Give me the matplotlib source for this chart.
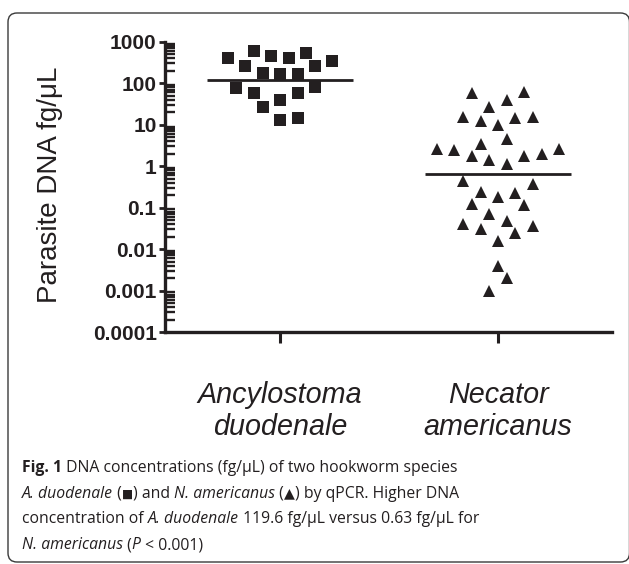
import matplotlib
matplotlib.use('Agg')
import matplotlib.pyplot as plt
from matplotlib.patches import FancyBboxPatch
from matplotlib.ticker import FixedLocator, LogLocator, NullFormatter

# ---------------- data ----------------
categories = ['Ancylostoma\nduodenale', 'Necator\namericanus']
ancylostoma_values = [411, 607, 459, 411, 525, 348, 264, 264, 173, 164, 164,
                      78, 82, 57, 57, 39, 27, 12.9, 14.2]
ancylostoma_jitter = [-0.24, -0.12, -0.04, 0.04, 0.12, 0.24, -0.16, 0.16, -0.08, 0.0, 0.08,
                      -0.20, 0.16, -0.12, 0.08, 0.0, -0.08, 0.0, 0.08]
necator_values = [58.9, 62.3, 39.3, 27.1, 15.5, 12.4, 14.7, 15.5, 9.8, 4.5, 3.4,
                  2.54, 2.45, 1.78, 1.40, 1.12, 1.78, 1.96, 2.54,
                  0.445, 0.37, 0.24, 0.183, 0.229, 0.12, 0.115, 0.069, 0.048,
                  0.0395, 0.030, 0.036, 0.024, 0.0159, 0.004, 0.00197, 0.00099]
necator_jitter = [-0.12, 0.12, 0.04, -0.04, -0.16, -0.08, 0.08, 0.16, 0.0, 0.04, -0.08,
                  -0.28, -0.20, -0.12, -0.04, 0.04, 0.12, 0.20, 0.28,
                  -0.16, 0.16, -0.08, 0.0, 0.08, -0.12, 0.12, -0.04, 0.04,
                  -0.16, -0.08, 0.16, 0.08, 0.0, 0.0, 0.04, -0.04]
center_values = [119.6, 0.63]
ytick_values = [1000, 100, 10, 1, 0.1, 0.01, 0.001, 0.0001]
ytick_labels = ['1000', '100', '10', '1', '0.1', '0.01', '0.001', '0.0001']
y_label = 'Parasite DNA fg/μL'

caption_lines = [
    [('Fig. 1', 'bold', 'normal'),
     (' DNA concentrations (fg/μL) of two hookworm species', 'normal', 'normal')],
    [('A. duodenale', 'normal', 'italic'), (' (', 'normal', 'normal'),
     ('■', 'normal', 'normal'), (') and ', 'normal', 'normal'),
     ('N. americanus', 'normal', 'italic'), (' (', 'normal', 'normal'),
     ('▲', 'normal', 'normal'), (') by qPCR. Higher DNA', 'normal', 'normal')],
    [('concentration of ', 'normal', 'normal'), ('A. duodenale', 'normal', 'italic'),
     (' 119.6 fg/μL versus 0.63 fg/μL for', 'normal', 'normal')],
    [('N. americanus', 'normal', 'italic'), (' (', 'normal', 'normal'),
     ('P', 'normal', 'italic'), (' < 0.001)', 'normal', 'normal')],
]

# ---------------- figure ----------------
W, H = 629, 564
fig = plt.figure(figsize=(W / 100, H / 100), dpi=100)
fig.patch.set_facecolor('white')

ax_l, ax_r, ax_t, ax_b = 165, 612, 41.7, 332
ax = fig.add_axes([ax_l / W, 1 - ax_b / H, (ax_r - ax_l) / W, (ax_b - ax_t) / H])
ax.set_yscale('log')
ax.set_ylim(1e-4, 1e3)
ax.set_xlim(0.472, 2.523)

ink = '#231f20'
x1 = [1 + j for j in ancylostoma_jitter]
x2 = [2 + j for j in necator_jitter]
ax.plot(x1, ancylostoma_values, linestyle='none', marker='s', ms=8.3, mew=0,
        color=ink, zorder=3)
ax.plot(x2, necator_values, linestyle='none', marker='^', ms=8.2, mew=0,
        color=ink, zorder=3)
for i, v in enumerate(center_values):
    ax.plot([i + 1 - 0.335, i + 1 + 0.335], [v, v], color=ink, lw=2.0,
            solid_capstyle='butt', zorder=2)

for s in ['top', 'right']:
    ax.spines[s].set_visible(False)
for s in ['left', 'bottom']:
    ax.spines[s].set_linewidth(2.4)
    ax.spines[s].set_color(ink)

ax.yaxis.set_major_locator(FixedLocator(ytick_values))
ax.set_yticklabels(ytick_labels)
ax.yaxis.set_minor_locator(LogLocator(base=10, subs=[2, 3, 4, 5, 6, 7, 8, 9], numticks=20))
ax.yaxis.set_minor_formatter(NullFormatter())
ax.tick_params(axis='y', which='major', direction='out', length=4.5, width=2.0,
               color=ink, pad=1.5)
ax.tick_params(axis='y', which='minor', direction='in', length=7.0, width=1.7,
               color=ink)
for lbl in ax.get_yticklabels():
    lbl.set_fontfamily('Liberation Sans')
    lbl.set_fontweight('bold')
    lbl.set_fontsize(15)
    lbl.set_color(ink)

ax.set_xticks([1, 2])
ax.set_xticklabels(categories)
ax.tick_params(axis='x', which='major', direction='out', length=8, width=2.2,
               color=ink, pad=27)
ax.tick_params(axis='x', which='minor', bottom=False)
for lbl in ax.get_xticklabels():
    lbl.set_fontfamily('Liberation Sans')
    lbl.set_fontstyle('italic')
    lbl.set_fontsize(20.7)
    lbl.set_linespacing(1.2)
    lbl.set_color(ink)

fig.text(50 / W, 1 - 185 / H, y_label, rotation=90, ha='center', va='center',
         fontsize=20, family='Liberation Sans', color=ink)

# ---------------- caption ----------------
renderer = fig.canvas.get_renderer()
cap_family = ['Open Sans', 'DejaVu Sans']
cap_size = 11.3


def text_width(s, **kw):
    t = fig.text(0, 0, s + '|', **kw)
    w1 = t.get_window_extent(renderer).width
    t.remove()
    t = fig.text(0, 0, '|', **kw)
    w2 = t.get_window_extent(renderer).width
    t.remove()
    return w1 - w2


baselines = [471.7, 497.5, 523.3, 549.0]
for line, yb in zip(caption_lines, baselines):
    x = 22.0
    for txt, weight, style in line:
        size = cap_size * (0.75 if txt == '■' else 0.9 if txt == '▲' else 1.0)
        kw = dict(family=cap_family, weight=weight, style=style, fontsize=size)
        fig.text(x / W, 1 - yb / H, txt, ha='left', va='baseline', color=ink, **kw)
        x += text_width(txt, **kw)

# ---------------- frame ----------------
box = FancyBboxPatch((0.08, 0.02), 6.215, 5.49,
                     boxstyle='round,pad=0,rounding_size=0.09',
                     transform=fig.dpi_scale_trans, fill=False,
                     edgecolor='#3a3a3a', linewidth=1.0)
fig.add_artist(box)

fig.savefig('out.png', dpi=100)
